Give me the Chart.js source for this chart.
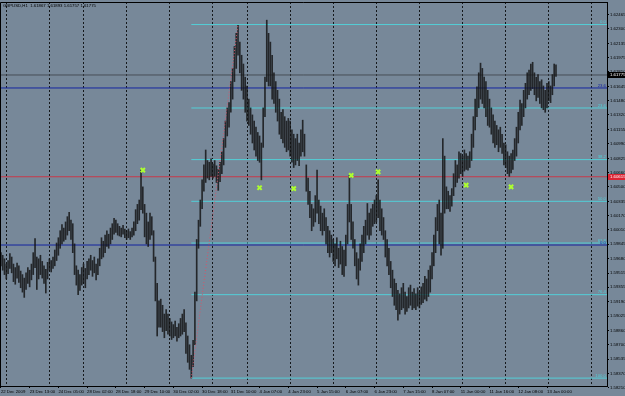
<!DOCTYPE html>
<html>
<head>
<meta charset="utf-8">
<script src="https://cdn.jsdelivr.net/npm/chart.js@4.4.0/dist/chart.umd.min.js"></script>
<style>
html, body { margin: 0; padding: 0; background: #778899; }
canvas { display: block; }
</style>
</head>
<body>
<canvas id="chart" width="625" height="396"></canvas>
<script>
const symbolTitle = 'GBPUSD,H1  1.61867 1.61893 1.61757 1.61775';

// time axis labels, one every 16 hourly bars
const timeLabels = ['22 Dec 2009', '23 Dec 13:00', '24 Dec 05:00', '28 Dec 02:00', '28 Dec 18:00',
    '29 Dec 10:00', '30 Dec 02:00', '30 Dec 18:00', '31 Dec 10:00', '4 Jan 07:00', '4 Jan 23:00',
    '5 Jan 15:00', '6 Jan 07:00', '6 Jan 23:00', '7 Jan 15:00', '8 Jan 07:00', '11 Jan 00:00',
    '11 Jan 16:00', '12 Jan 08:00', '13 Jan 00:00'];
const labelBars = [0, 16, 32, 48, 64, 80, 96, 112, 128, 144, 160, 176, 192, 208, 224, 240, 256, 272, 288, 304];
// bars where a new day starts (dotted grid)
const dayStarts = [3, 27, 46, 70, 94, 118, 137, 161, 185, 209, 233, 257, 281, 305, 329];

const priceTicks = [1.62465, 1.62300, 1.62135, 1.61975, 1.61810, 1.61645, 1.61480, 1.61320, 1.61155,
    1.60990, 1.60825, 1.60660, 1.60500, 1.60335, 1.60170, 1.60010, 1.59845, 1.59680, 1.59515,
    1.59355, 1.59190, 1.59025, 1.58860, 1.58700, 1.58535, 1.58370, 1.58210];

//..hourly highs / lows
const highs = [
    1.5975,1.5972,1.5968,1.5962,1.5966,1.5974,1.5970,1.5962,1.5958,1.5963,
    1.5960,1.5954,1.5950,1.5946,1.5952,1.5958,1.5955,1.5962,1.5975,1.5991,
    1.5970,1.5968,1.5972,1.5965,1.5960,1.5956,1.5964,1.5968,1.5966,1.5970,
    1.5978,1.5986,1.5992,1.6000,1.6007,1.6003,1.6010,1.6016,1.6021,1.6012,
    1.6008,1.5985,1.5960,1.5955,1.5950,1.5958,1.5962,1.5957,1.5965,1.5968,
    1.5972,1.5966,1.5970,1.5962,1.5968,1.5980,1.5992,1.5988,1.5995,1.6000,
    1.5996,1.6003,1.6008,1.6014,1.6012,1.6008,1.6005,1.6003,1.6006,1.6002,
    1.6000,1.6002,1.5999,1.6003,1.6010,1.6024,1.6030,1.6035,1.6069,1.6050,
    1.6030,1.6020,1.6010,1.6020,1.6016,1.6000,1.5970,1.5940,1.5920,1.5922,
    1.5915,1.5905,1.5910,1.5905,1.5900,1.5896,1.5893,1.5897,1.5890,1.5894,
    1.5900,1.5905,1.5910,1.5895,1.5880,1.5870,1.5858,1.5875,1.5930,1.5990,
    1.6012,1.6035,1.6058,1.6075,1.6092,1.6080,1.6078,1.6082,1.6076,1.6080,
    1.6074,1.6070,1.6078,1.6090,1.6105,1.6125,1.6140,1.6146,1.6170,1.6185,
    1.6210,1.6225,1.6234,1.6215,1.6200,1.6190,1.6175,1.6165,1.6150,1.6140,
    1.6132,1.6125,1.6118,1.6112,1.6108,1.6100,1.6140,1.6175,1.6240,1.6225,
    1.6215,1.6200,1.6180,1.6170,1.6160,1.6150,1.6135,1.6138,1.6130,1.6125,
    1.6128,1.6125,1.6115,1.6110,1.6105,1.6110,1.6100,1.6115,1.6126,1.6110,
    1.6075,1.6060,1.6045,1.6030,1.6025,1.6040,1.6069,1.6035,1.6028,1.6020,
    1.6025,1.6015,1.6005,1.6000,1.5995,1.5990,1.5985,1.5992,1.5980,1.5988,
    1.5982,1.5978,1.5995,1.6030,1.6063,1.6030,1.6010,1.5990,1.5975,1.5968,
    1.5985,1.5995,1.6005,1.6012,1.6031,1.6020,1.6025,1.6030,1.6035,1.6040,
    1.6058,1.6035,1.6025,1.6015,1.6000,1.5990,1.5980,1.5965,1.5955,1.5945,
    1.5940,1.5932,1.5928,1.5935,1.5940,1.5930,1.5925,1.5935,1.5938,1.5930,
    1.5934,1.5928,1.5935,1.5930,1.5936,1.5940,1.5948,1.5945,1.5955,1.5960,
    1.5975,1.5995,1.6015,1.6030,1.6035,1.6020,1.6105,1.6085,1.6050,1.6045,
    1.6040,1.6048,1.6065,1.6080,1.6075,1.6090,1.6088,1.6085,1.6092,1.6088,
    1.6085,1.6090,1.6110,1.6130,1.6150,1.6164,1.6180,1.6191,1.6185,1.6175,
    1.6170,1.6160,1.6150,1.6140,1.6132,1.6125,1.6120,1.6115,1.6118,1.6110,
    1.6100,1.6098,1.6090,1.6085,1.6088,1.6092,1.6105,1.6118,1.6135,1.6149,
    1.6145,1.6160,1.6168,1.6180,1.6183,1.6190,1.6192,1.6180,1.6175,1.6178,
    1.6170,1.6172,1.6165,1.6160,1.6168,1.6170,1.6165,1.6178,1.6190,1.6189
];
const lows = [
    1.5960,1.5955,1.5950,1.5945,1.5951,1.5957,1.5952,1.5942,1.5939,1.5946,
    1.5941,1.5935,1.5930,1.5924,1.5933,1.5940,1.5936,1.5944,1.5950,1.5958,
    1.5933,1.5945,1.5950,1.5946,1.5940,1.5929,1.5945,1.5955,1.5953,1.5957,
    1.5960,1.5966,1.5972,1.5980,1.5985,1.5988,1.5990,1.5995,1.6000,1.5990,
    1.5975,1.5950,1.5938,1.5927,1.5932,1.5938,1.5940,1.5935,1.5945,1.5950,
    1.5955,1.5948,1.5952,1.5944,1.5950,1.5960,1.5968,1.5970,1.5975,1.5982,
    1.5980,1.5985,1.5990,1.5996,1.5998,1.5995,1.5994,1.5993,1.5996,1.5992,
    1.5990,1.5992,1.5990,1.5993,1.5995,1.6000,1.6008,1.6012,1.6024,1.6020,
    1.5993,1.5985,1.5982,1.5990,1.5995,1.5965,1.5920,1.5880,1.5890,1.5890,
    1.5885,1.5878,1.5886,1.5882,1.5880,1.5876,1.5878,1.5880,1.5874,1.5878,
    1.5880,1.5882,1.5885,1.5860,1.5850,1.5842,1.5832,1.5845,1.5870,1.5920,
    1.5980,1.6005,1.6025,1.6045,1.6055,1.6060,1.6058,1.6062,1.6060,1.6062,
    1.6055,1.6046,1.6056,1.6065,1.6075,1.6095,1.6108,1.6118,1.6135,1.6150,
    1.6170,1.6185,1.6200,1.6180,1.6160,1.6150,1.6135,1.6125,1.6120,1.6110,
    1.6100,1.6092,1.6085,1.6080,1.6078,1.6058,1.6095,1.6130,1.6170,1.6165,
    1.6165,1.6150,1.6145,1.6135,1.6125,1.6110,1.6105,1.6100,1.6095,1.6090,
    1.6092,1.6085,1.6078,1.6072,1.6075,1.6080,1.6074,1.6085,1.6090,1.6085,
    1.6045,1.6030,1.6015,1.6000,1.6005,1.6010,1.6020,1.6008,1.6000,1.5995,
    1.6000,1.5985,1.5975,1.5970,1.5975,1.5965,1.5960,1.5968,1.5958,1.5962,
    1.5950,1.5948,1.5960,1.5985,1.6010,1.5990,1.5980,1.5960,1.5945,1.5938,
    1.5955,1.5965,1.5975,1.5985,1.5995,1.5990,1.5995,1.6005,1.6008,1.6010,
    1.6015,1.6000,1.5995,1.5990,1.5970,1.5960,1.5950,1.5935,1.5925,1.5915,
    1.5910,1.5898,1.5905,1.5910,1.5912,1.5905,1.5908,1.5912,1.5915,1.5910,
    1.5912,1.5910,1.5914,1.5912,1.5916,1.5918,1.5922,1.5920,1.5925,1.5930,
    1.5945,1.5960,1.5975,1.6000,1.5985,1.5972,1.5980,1.6020,1.6025,1.6025,
    1.6022,1.6028,1.6040,1.6050,1.6055,1.6060,1.6065,1.6062,1.6068,1.6070,
    1.6069,1.6072,1.6080,1.6095,1.6115,1.6130,1.6140,1.6150,1.6145,1.6140,
    1.6130,1.6120,1.6118,1.6110,1.6100,1.6095,1.6098,1.6090,1.6095,1.6088,
    1.6075,1.6072,1.6065,1.6062,1.6066,1.6070,1.6080,1.6085,1.6100,1.6115,
    1.6120,1.6130,1.6140,1.6150,1.6155,1.6160,1.6162,1.6155,1.6148,1.6152,
    1.6145,1.6140,1.6138,1.6135,1.6140,1.6148,1.6146,1.6155,1.6165,1.6176
];

//..fibo from the 30 Dec low to the 31 Dec high
const fibRatios = [0, 23.6, 38.2, 50, 61.8, 76.4, 100];
const fibHigh = 1.6235;
const fibLow = 1.5832;
const fibStartBar = 106;
const trendBars = [106, 132];
const trendPrices = [1.5832, 1.6235];

const fractalBars = [79, 144, 163, 195, 210, 259, 284];
const fractalPrices = [1.6069, 1.6049, 1.6048, 1.6063, 1.6067, 1.6052, 1.6050];

const blueLevels = [1.61627, 1.59837];
const blueLabels = ['23.6', '0.0'];
const redLevel = 1.60615;
const bidPrice = 1.61775;

const X_MIN = -0.5, X_MAX = 337.4;
const Y_MIN = 1.58230, Y_MAX = 1.62607;

const BG = '#778899';
const FIB_COLOR = '#52cfd8';
const BLUE_COLOR = '#1424a0';
const RED_COLOR = '#c8384a';
const FONT_FAMILY = '"Liberation Sans", Arial, sans-serif';
const tiny = { family: FONT_FAMILY, size: 4.3 };

const fibLevels = fibRatios.map(r => fibHigh - r / 100 * (fibHigh - fibLow));

function hline(from, price) {
    return [{ x: from, y: price }, { x: X_MAX, y: price }];
}

function lineSet(data, color, extra) {
    return Object.assign({
        type: 'line', data: data, borderColor: color, borderWidth: 1,
        pointRadius: 0, fill: false, order: 3
    }, extra || {});
}

const datasets = [
    {
        type: 'line',
        data: fractalBars.map((b, i) => ({ x: b, y: fractalPrices[i] })),
        showLine: false,
        pointStyle: 'crossRot',
        pointRadius: 3,
        pointBorderWidth: 2,
        pointBorderColor: '#adff2f',
        pointBackgroundColor: '#adff2f',
        order: 0
    },
    lineSet(trendBars.map((b, i) => ({ x: b, y: trendPrices[i] })), '#d4566a', { borderDash: [1, 2], order: 0.5 }),
    {
        type: 'bar',
        data: highs.map((h, i) => ({ x: i, y: [lows[i], h] })),
        backgroundColor: 'rgba(18,18,18,0.82)',
        borderWidth: 0,
        barThickness: 1,
        order: 1
    },
    ...fibLevels.map(l => lineSet(hline(fibStartBar, l), FIB_COLOR)),
    ...blueLevels.map(l => lineSet(hline(X_MIN, l), BLUE_COLOR)),
    lineSet(hline(X_MIN, redLevel), RED_COLOR),
    lineSet(hline(X_MIN, bidPrice), '#474e56')
];

function priceBox(ctx, yPix, text, color, left, right) {
    ctx.fillStyle = color;
    ctx.fillRect(left, Math.round(yPix) - 3, right - left, 6);
    ctx.fillStyle = '#fff';
    ctx.textAlign = 'left';
    ctx.textBaseline = 'middle';
    ctx.fillText(text, left + 2, Math.round(yPix));
}

const mtOverlay = {
    id: 'mtOverlay',
    beforeDraw(chart) {
        const ctx = chart.ctx;
        ctx.save();
        ctx.fillStyle = BG;
        ctx.fillRect(0, 0, chart.width, chart.height);
        ctx.restore();
    },
    afterDraw(chart) {
        const { ctx, chartArea: a } = chart;
        const y = chart.scales.y;
        ctx.save();
        ctx.strokeStyle = '#000';
        ctx.lineWidth = 1;
        ctx.beginPath();
        ctx.moveTo(a.left + 0.5, a.bottom);
        ctx.lineTo(a.left + 0.5, a.top + 0.5);
        ctx.lineTo(a.right, a.top + 0.5);
        ctx.stroke();

        ctx.font = `${tiny.size}px ${FONT_FAMILY}`;
        ctx.textAlign = 'right';
        ctx.textBaseline = 'bottom';
        ctx.fillStyle = FIB_COLOR;
        fibRatios.forEach((r, i) => {
            ctx.fillText(r.toFixed(1), a.right - 1, y.getPixelForValue(fibLevels[i]) - 0.5);
        });
        ctx.fillStyle = BLUE_COLOR;
        blueLevels.forEach((l, i) => {
            ctx.fillText(blueLabels[i], a.right - 1, y.getPixelForValue(l) - 0.5);
        });

        priceBox(ctx, y.getPixelForValue(bidPrice), bidPrice.toFixed(5), '#000', a.right + 1, chart.width);
        priceBox(ctx, y.getPixelForValue(redLevel), redLevel.toFixed(5), '#dc2434', a.right + 1, chart.width);

        ctx.fillStyle = '#000';
        ctx.textAlign = 'left';
        ctx.textBaseline = 'middle';
        ctx.fillText(symbolTitle, 3, 5.5);
        ctx.restore();
    }
};

new Chart(document.getElementById('chart'), {
    type: 'line',
    data: { datasets: datasets },
    plugins: [mtOverlay],
    options: {
        responsive: false,
        animation: false,
        devicePixelRatio: 1,
        events: [],
        layout: { autoPadding: false, padding: { top: 2, left: 0, right: 0, bottom: 0 } },
        plugins: { legend: { display: false }, tooltip: { enabled: false }, title: { display: false } },
        scales: {
            x: {
                type: 'linear', min: X_MIN, max: X_MAX, offset: false,
                afterBuildTicks: s => { s.ticks = labelBars.map(v => ({ value: v })); },
                afterFit: s => { s.height = 10; s.paddingLeft = 0; s.paddingRight = 0; },
                ticks: {
                    callback: (v, i) => timeLabels[i],
                    align: 'start', maxRotation: 0, autoSkip: false,
                    font: tiny, color: '#000', padding: 1
                },
                grid: { drawOnChartArea: false, color: '#000', tickLength: 2, offset: false },
                border: { color: '#000' }
            },
            xg: {
                type: 'linear', position: 'top', min: X_MIN, max: X_MAX, offset: false,
                afterBuildTicks: s => { s.ticks = dayStarts.map(v => ({ value: v })); },
                afterFit: s => { s.height = 0; },
                ticks: { display: false },
                grid: { color: '#15181b', lineWidth: 1, drawTicks: false, offset: false },
                border: { display: false, dash: [2, 2] }
            },
            y: {
                type: 'linear', position: 'right', min: Y_MIN, max: Y_MAX,
                afterBuildTicks: s => { s.ticks = priceTicks.map(v => ({ value: v })); },
                afterFit: s => { s.width = 18; s.paddingTop = 0; s.paddingBottom = 0; },
                ticks: {
                    callback: v => v.toFixed(5),
                    autoSkip: false, font: tiny, color: '#000', padding: 1
                },
                grid: { drawOnChartArea: false, color: '#000', tickLength: 2 },
                border: { color: '#000' }
            }
        }
    }
});
</script>
</body>
</html>
